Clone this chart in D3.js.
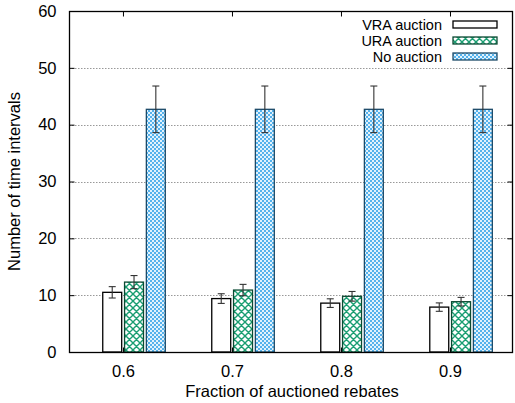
<!DOCTYPE html>
<html>
<head>
<meta charset="utf-8">
<script src="https://cdn.jsdelivr.net/npm/d3@7"></script>
<style>
  html, body { margin: 0; padding: 0; background: #fff; }
  svg { display: block; }
  text { font-family: "Liberation Sans", Arial, sans-serif; fill: #000; }
</style>
</head>
<body>
<script>
// Number of time intervals per auction scheme, grouped by auctioned fraction
const categories = ["0.6", "0.7", "0.8", "0.9"];
const seriesNames = ["VRA auction", "URA auction", "No auction"];
const vraMean = [10.5, 9.4, 8.6, 7.9];
const vraErr  = [1.0, 0.85, 0.76, 0.74];
const uraMean = [12.3, 10.9, 9.8, 8.85];
const uraErr  = [1.15, 1.0, 0.85, 0.76];
const noMean  = [42.7, 42.7, 42.7, 42.7];
const noErr   = [4.1, 4.1, 4.1, 4.1];
const yTicks  = [0, 10, 20, 30, 40, 50, 60];

const W = 515, H = 403;
const plot = { left: 69, right: 513, top: 11, bottom: 352 };
const FS = "16.5px";
const LEG_FS = "14.5px";

const svg = d3.select("body").append("svg").attr("width", W).attr("height", H);
const defs = svg.append("defs");

// crosshatch fill for URA
const hatch = defs.append("pattern").attr("id", "hatch")
  .attr("patternUnits", "userSpaceOnUse").attr("width", 7).attr("height", 7);
hatch.append("rect").attr("width", 7).attr("height", 7).attr("fill", "#fff");
hatch.append("path").attr("d", "M0,0 L7,7 M7,0 L0,7 M-1,6 L1,8 M6,-1 L8,1 M-1,1 L1,-1 M6,8 L8,6")
  .attr("stroke", "#1a9e72").attr("stroke-width", 1.4).attr("fill", "none");

// fine checker fill for No auction
const check = defs.append("pattern").attr("id", "check")
  .attr("patternUnits", "userSpaceOnUse").attr("width", 4).attr("height", 4);
check.append("rect").attr("width", 4).attr("height", 4).attr("fill", "#55b2ec");
check.append("rect").attr("x", 0).attr("y", 0).attr("width", 2).attr("height", 2).attr("fill", "#e2f2fc");
check.append("rect").attr("x", 2).attr("y", 2).attr("width", 2).attr("height", 2).attr("fill", "#e2f2fc");

const styles = [
  { fill: "#fff", stroke: "#000" },
  { fill: "url(#hatch)", stroke: "#0b4a33" },
  { fill: "url(#check)", stroke: "#1c4a68" }
];
const means = [vraMean, uraMean, noMean];
const errs = [vraErr, uraErr, noErr];

const x = d3.scaleLinear().domain([-0.495, 3.578]).range([plot.left, plot.right]);
const y = d3.scaleLinear().domain([0, 60]).range([plot.bottom, plot.top]);

// horizontal dotted grid
svg.append("g").selectAll("line").data(yTicks.filter(v => v > 0 && v < 60)).join("line")
  .attr("x1", plot.left).attr("x2", plot.right)
  .attr("y1", d => Math.round(y(d)) + 0.5).attr("y2", d => Math.round(y(d)) + 0.5)
  .attr("stroke", "#999").attr("stroke-width", 1).attr("stroke-dasharray", "1.5,1.5");

// bars
const barW = 0.183, barStep = 0.2, barStart = -0.19;
const bars = svg.append("g");
seriesNames.forEach((name, s) => {
  categories.forEach((c, i) => {
    const x0 = x(i + barStart + s * barStep);
    const x1 = x(i + barStart + s * barStep + barW);
    bars.append("rect")
      .attr("x", x0 + 0.5).attr("y", y(means[s][i]))
      .attr("width", x1 - x0 - 1).attr("height", y(0) - y(means[s][i]))
      .attr("fill", styles[s].fill).attr("stroke", styles[s].stroke).attr("stroke-width", 1.3);
  });
});

// error bars
const eb = svg.append("g").attr("stroke", "#333").attr("stroke-width", 1.1);
seriesNames.forEach((name, s) => {
  categories.forEach((c, i) => {
    const cx = x(i + barStart + s * barStep + barW / 2);
    const hi = y(means[s][i] + errs[s][i]), lo = y(means[s][i] - errs[s][i]);
    eb.append("line").attr("x1", cx).attr("x2", cx).attr("y1", hi).attr("y2", lo);
    eb.append("line").attr("x1", cx - 3.5).attr("x2", cx + 3.5).attr("y1", hi).attr("y2", hi);
    eb.append("line").attr("x1", cx - 3.5).attr("x2", cx + 3.5).attr("y1", lo).attr("y2", lo);
  });
});

// frame
svg.append("rect")
  .attr("x", plot.left + 0.5).attr("y", plot.top + 0.5)
  .attr("width", plot.right - plot.left - 1).attr("height", plot.bottom - plot.top)
  .attr("fill", "none").attr("stroke", "#000").attr("stroke-width", 1.3);

// y axis (ticks inward, mirrored on right)
const yAxis = d3.axisLeft(y).tickValues(yTicks).tickSize(-5).tickPadding(13).tickFormat(d3.format("d"));
const gy = svg.append("g").attr("transform", `translate(${plot.left + 0.5},0)`).call(yAxis);
gy.select(".domain").remove();
gy.selectAll("text").style("font-size", FS).attr("font-family", "Liberation Sans, Arial, sans-serif");
const yAxisR = d3.axisRight(y).tickValues(yTicks).tickSize(-5).tickFormat("");
const gyr = svg.append("g").attr("transform", `translate(${plot.right - 0.5},0)`).call(yAxisR);
gyr.select(".domain").remove();

// x axis (ticks inward, mirrored on top)
const xAxis = d3.axisBottom(x).tickValues(d3.range(categories.length))
  .tickFormat(i => categories[i]).tickSize(-5).tickPadding(13);
const gx = svg.append("g").attr("transform", `translate(0,${plot.bottom + 0.5})`).call(xAxis);
gx.select(".domain").remove();
gx.selectAll("text").style("font-size", FS).attr("font-family", "Liberation Sans, Arial, sans-serif");
const xAxisT = d3.axisTop(x).tickValues(d3.range(categories.length)).tickSize(-5).tickFormat("");
const gxt = svg.append("g").attr("transform", `translate(0,${plot.top + 0.5})`).call(xAxisT);
gxt.select(".domain").remove();

// axis titles
svg.append("text").attr("x", (plot.left + plot.right) / 2 + 1).attr("y", 397)
  .attr("text-anchor", "middle").style("font-size", FS).text("Fraction of auctioned rebates");
svg.append("text").attr("transform", `translate(20,${(plot.top + plot.bottom) / 2}) rotate(-90)`)
  .attr("text-anchor", "middle").style("font-size", FS).text("Number of time intervals");

// legend
const lg = svg.append("g");
seriesNames.forEach((name, s) => {
  const cy = 24.5 + s * 16;
  lg.append("text").attr("x", 442).attr("y", cy + 5).attr("text-anchor", "end")
    .style("font-size", LEG_FS).text(name);
  lg.append("rect").attr("x", 453).attr("y", cy - 3.5).attr("width", 44).attr("height", 7)
    .attr("fill", styles[s].fill).attr("stroke", styles[s].stroke).attr("stroke-width", 1.3);
});
</script>
</body>
</html>
